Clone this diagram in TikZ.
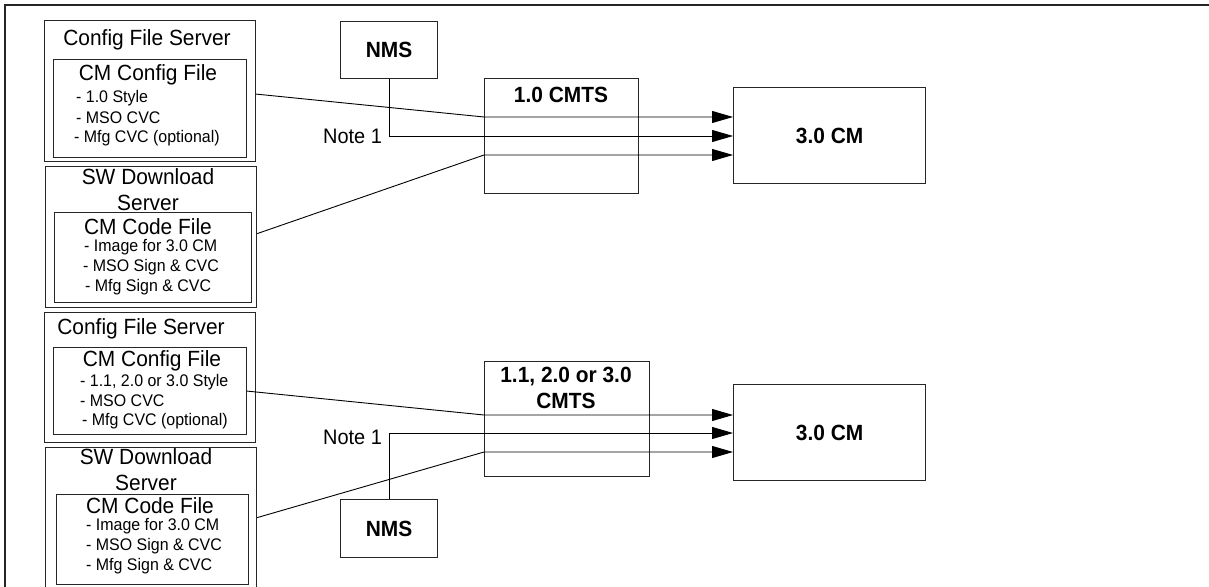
\documentclass[tikz,border=0pt]{standalone}
\usepackage{fontspec}
\setmainfont{Liberation Sans}[FakeStretch=0.95]
\usetikzlibrary{arrows.meta,calc}
\begin{document}
\begin{tikzpicture}[x=1pt,y=-1pt,
  box/.style={draw=black!85,line width=1.2pt,rectangle,inner sep=0pt,anchor=north west},
  big/.style={font=\fontsize{22}{24}\selectfont,inner sep=0pt},
  small/.style={font=\fontsize{16.8}{18}\selectfont,inner sep=0pt,anchor=west},
  bold/.style={font=\fontsize{22}{24}\selectfont\bfseries,inner sep=0pt},
  note/.style={font=\fontsize{21}{24}\selectfont,inner sep=0pt,anchor=east},
  conn/.style={draw=black,line width=0.9pt},
  arr/.style={conn,-{Triangle[length=21pt,width=12pt]}}
]
\useasboundingbox (0,0) rectangle (1209,586);
\clip (0,0) rectangle (1209,586);
\fill[white] (0,0) rectangle (1209,586);
% outer frame
\draw[black!85,line width=1.2pt] (1215,5) -- (5,5) -- (5,600);

% ---------- top part ----------
\node[box,minimum width=211pt,minimum height=141pt] (cfs1) at (44,20) {};
\node[box,minimum width=193pt,minimum height=98pt] (cfile1) at (53,59) {};
\node[box,minimum width=211pt,minimum height=141pt] (sws1) at (45,166) {};
\node[box,minimum width=197pt,minimum height=90pt] (cdfile1) at (54,212) {};
\node[box,minimum width=97pt,minimum height=57pt] (nms1) at (340,21) {};
\node[box,minimum width=154pt,minimum height=115pt] (cmts1) at (484,78) {};
\node[box,minimum width=192pt,minimum height=96pt] (cm1) at (733,87) {};

\node[big] (t1a) at (147,40) {Config File Server};
\node[big] (t1b) at (148,75) {CM Config File};
\node[small] (t1c) at (76,98) {- 1.0 Style};
\node[small] (t1d) at (76,118) {- MSO CVC};
\node[small] (t1e) at (74,138) {- Mfg CVC (optional)};
\node[big] (t2a) at (148,177) {SW Download};
\node[big] (t2b) at (148,203) {Server};
\node[big] (t2c) at (148,227) {CM Code File};
\node[small] (t2d) at (84,247) {- Image for 3.0 CM};
\node[small] (t2e) at (83,267) {- MSO Sign \& CVC};
\node[small] (t2f) at (85,287) {- Mfg Sign \& CVC};
\node[bold] (tnms1) at (nms1.center) {NMS};
\node[bold] (tcmts1) at (561,95) {1.0 CMTS};
\node[bold] (tcm1) at (cm1.center) {3.0 CM};

\coordinate (j1) at (484,117);
\coordinate (j2) at (nms1.south |- 0,136);
\coordinate (j3) at (484,155);
\node[note] (n1) at ($(j2)+(-7,0)$) {Note 1};

\draw[arr] ([yshift=-3pt]cfs1.east) -- (j1) -- (j1 -| cm1.west);
\draw[arr] (nms1.south) -- (j2) -- (j2 -| cm1.west);
\draw[arr] ([yshift=3.5pt]sws1.east) -- (j3) -- (j3 -| cm1.west);

% ---------- bottom part ----------
\node[box,minimum width=211pt,minimum height=130pt] (cfs2) at (44,312) {};
\node[box,minimum width=193pt,minimum height=87pt] (cfile2) at (53,347) {};
\node[box,minimum width=211pt,minimum height=140pt] (sws2) at (45,447) {};
\node[box,minimum width=192pt,minimum height=90pt] (cdfile2) at (56,494) {};
\node[box,minimum width=97pt,minimum height=58pt] (nms2) at (340,499) {};
\node[box,minimum width=165pt,minimum height=115pt] (cmts2) at (484,361) {};
\node[box,minimum width=192pt,minimum height=96pt] (cm2) at (733,384) {};

\node[big] (u1a) at (141,329) {Config File Server};
\node[big] (u1b) at (152,361) {CM Config File};
\node[small] (u1c) at (80,382) {- 1.1, 2.0 or 3.0 Style};
\node[small] (u1d) at (80,401) {- MSO CVC};
\node[small] (u1e) at (82,421) {- Mfg CVC (optional)};
\node[big] (u2a) at (146,457) {SW Download};
\node[big] (u2b) at (146,483) {Server};
\node[big] (u2c) at (150,506) {CM Code File};
\node[small] (u2d) at (86,526) {- Image for 3.0 CM};
\node[small] (u2e) at (86,546) {- MSO Sign \& CVC};
\node[small] (u2f) at (86,566) {- Mfg Sign \& CVC};
\node[bold] (tnms2) at (nms2.center) {NMS};
\node[bold] (tcmts2a) at (566,377) {1.1, 2.0 or 3.0};
\node[bold] (tcmts2b) at (566,401) {CMTS};
\node[bold] (tcm2) at (cm2.center) {3.0 CM};

\coordinate (k1) at (484,415);
\coordinate (k2) at (nms2.north |- 0,433);
\coordinate (k3) at (484,452);
\node[note] (n2) at ($(k2)+(-7,4)$) {Note 1};

\draw[arr] (cfile2.east) -- (k1) -- (k1 -| cm2.west);
\draw[arr] (nms2.north) -- (k2) -- (k2 -| cm2.west);
\draw[arr] (sws2.east) -- (k3) -- (k3 -| cm2.west);
\end{tikzpicture}
\end{document}
